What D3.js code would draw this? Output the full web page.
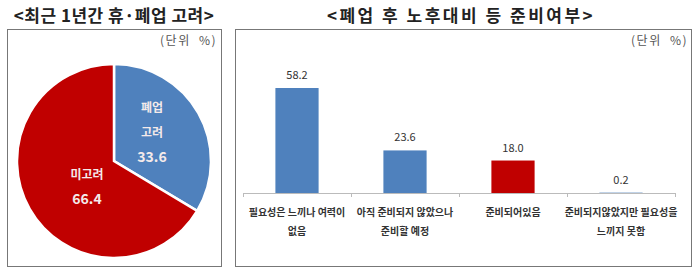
<!DOCTYPE html>
<html>
<head>
<meta charset="utf-8">
<script src="https://cdn.jsdelivr.net/npm/d3@7"></script>
<style>
  body { margin: 0; background: #fff; }
  svg { display: block; font-family: "Noto Sans CJK KR", "Noto Sans", sans-serif; }
</style>
</head>
<body>
<div id="chart"></div>
<script>
// pie data
const pieLabels = ["폐업 고려", "미고려"];
const pieValues = [33.6, 66.4];
const pieColors = ["#4F81BD", "#C00000"];

// bar data
const barCategories = [
    ["필요성은 느끼나 여력이", "없음"],
    ["아직 준비되지 않았으나", "준비할 예정"],
    ["준비되어있음"],
    ["준비되지않았지만 필요성을", "느끼지 못함"]
];
const barValues = [58.2, 23.6, 18.0, 0.2];
const barColors = ["#4F81BD", "#4F81BD", "#C00000", "#4F81BD"];

const W = 699, H = 277;
const svg = d3.select("#chart").append("svg")
    .attr("width", W)
    .attr("height", H);

// panel frames
svg.append("rect").attr("x", 7.5).attr("y", 29.5).attr("width", 214).attr("height", 237)
    .attr("fill", "none").attr("stroke", "#777").attr("stroke-width", 1);
svg.append("rect").attr("x", 235.5).attr("y", 29.5).attr("width", 456).attr("height", 237)
    .attr("fill", "none").attr("stroke", "#777").attr("stroke-width", 1);

// titles
svg.append("text").attr("x", 114).attr("y", 22).attr("text-anchor", "middle")
    .style("font-size", "17px").style("font-weight", "bold").attr("fill", "#222")
    .style("letter-spacing", "0.5px")
    .text("<최근 1년간 휴·폐업 고려>");
svg.append("text").attr("x", 461).attr("y", 22).attr("text-anchor", "middle")
    .style("font-size", "17px").style("font-weight", "bold").attr("fill", "#222")
    .style("letter-spacing", "2.5px")
    .text("<폐업 후 노후대비 등 준비여부>");

// units
svg.append("text").attr("x", 217).attr("y", 45).attr("text-anchor", "end")
    .style("font-size", "12px").attr("fill", "#555").style("letter-spacing", "1.5px")
    .style("word-spacing", "4px")
    .text("(단위 %)");
svg.append("text").attr("x", 688).attr("y", 45).attr("text-anchor", "end")
    .style("font-size", "12px").attr("fill", "#555").style("letter-spacing", "1.5px")
    .style("word-spacing", "4px")
    .text("(단위 %)");

// ---- pie ----
const cx = 114, cy = 161, r = 97;
const pie = d3.pie().sort(null).value(d => d);
const arc = d3.arc().innerRadius(0).outerRadius(r);
const pieG = svg.append("g").attr("transform", `translate(${cx}, ${cy})`);
const arcs = pie(pieValues);

pieG.selectAll("path")
    .data(arcs)
    .enter()
    .append("path")
    .attr("d", arc)
    .attr("fill", (d, i) => pieColors[i])
    .attr("stroke", "#fff")
    .attr("stroke-width", 2.5);

// pie labels
const pieText = [
    { lines: ["폐업", "고려", pieValues[0].toFixed(1)], x: 38, y: -49 },
    { lines: ["미고려", pieValues[1].toFixed(1)], x: -27, y: 18 }
];
pieText.forEach(p => {
    p.lines.forEach((ln, j) => {
        pieG.append("text")
            .attr("x", p.x)
            .attr("y", p.y + j * 25)
            .attr("text-anchor", "middle")
            .style("font-size", j === p.lines.length - 1 ? "14px" : "12px")
            .style("font-weight", "bold")
            .attr("fill", "#f4eaea")
            .text(ln);
    });
});

// ---- bar chart ----
const plotLeft = 243, plotRight = 675, axisY = 193;
const xScale = d3.scaleBand()
    .domain(d3.range(barValues.length))
    .range([plotLeft, plotRight])
    .paddingInner(0.6)
    .paddingOuter(0.3);
const yScale = d3.scaleLinear()
    .domain([0, 70])
    .range([axisY, axisY - 70 * 1.804]);

svg.selectAll("rect.bar")
    .data(barValues)
    .enter()
    .append("rect")
    .attr("class", "bar")
    .attr("x", (d, i) => xScale(i))
    .attr("y", d => yScale(d))
    .attr("width", xScale.bandwidth())
    .attr("height", d => axisY - yScale(d))
    .attr("fill", (d, i) => barColors[i]);

// axis line and ticks
const step = (plotRight - plotLeft) / barValues.length;
svg.append("line").attr("x1", plotLeft).attr("x2", plotRight)
    .attr("y1", axisY + 0.5).attr("y2", axisY + 0.5)
    .attr("stroke", "#bbb").attr("stroke-width", 1);
d3.range(barValues.length + 1).forEach(i => {
    const x = Math.round(plotLeft + i * step) + 0.5;
    svg.append("line").attr("x1", x).attr("x2", x)
        .attr("y1", axisY).attr("y2", axisY + 4)
        .attr("stroke", "#bbb");
});

// value labels
svg.selectAll("text.val")
    .data(barValues)
    .enter()
    .append("text")
    .attr("class", "val")
    .attr("x", (d, i) => xScale(i) + xScale.bandwidth() / 2)
    .attr("y", d => yScale(d) - 9)
    .attr("text-anchor", "middle")
    .style("font-size", "11px")
    .attr("fill", "#333")
    .text(d => d.toFixed(1));

// category labels
barCategories.forEach((lines, i) => {
    lines.forEach((ln, j) => {
        svg.append("text")
            .attr("x", xScale(i) + xScale.bandwidth() / 2)
            .attr("y", 216 + j * 19)
            .attr("text-anchor", "middle")
            .style("font-size", "10px")
            .style("font-weight", "bold")
            .attr("fill", "#333")
            .text(ln);
    });
});
</script>
</body>
</html>
